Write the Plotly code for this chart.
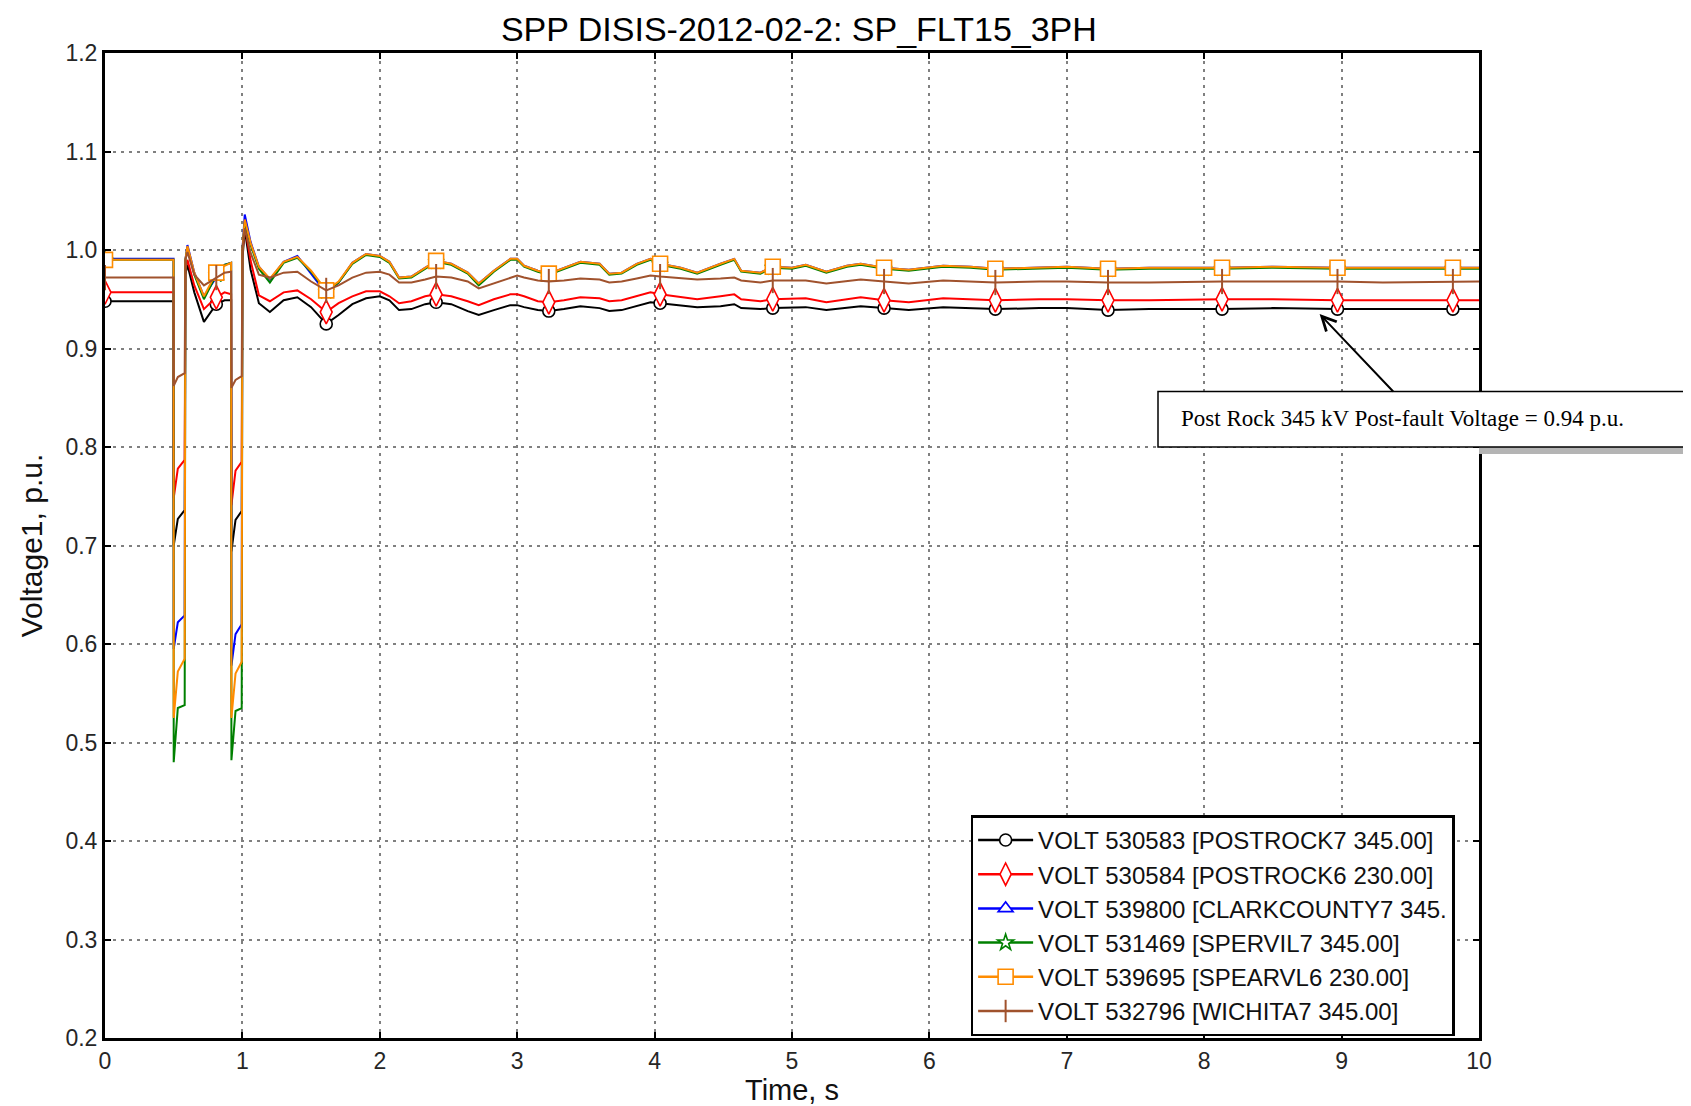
import numpy as np
import plotly.graph_objects as go

# ---------------- data ----------------
t = [0, 0.499, 0.5, 0.53, 0.58, 0.585, 0.6, 0.65, 0.72, 0.81,
     0.87, 0.918, 0.92, 0.95, 0.995, 1.0, 1.017, 1.06, 1.12, 1.2,
     1.3, 1.4, 1.5, 1.61, 1.7, 1.8, 1.9, 2.0, 2.07, 2.14,
     2.23, 2.33, 2.41, 2.52, 2.64, 2.72, 2.83, 2.95, 3.0, 3.05,
     3.15, 3.23, 3.34, 3.46, 3.6, 3.67, 3.76, 3.87, 3.97, 4.04,
     4.19, 4.31, 4.48, 4.58, 4.63, 4.77, 4.86, 5.0, 5.1, 5.25,
     5.4, 5.5, 5.67, 5.85, 6.1, 6.3, 6.48, 6.8, 7.0, 7.3,
     7.6, 8.13, 8.5, 8.97, 9.3, 9.81, 10]

v_postrock7 = [0.948, 0.948, 0.700, 0.727, 0.736, 0.975, 0.985, 0.957, 0.927, 0.945,
               0.949, 0.949, 0.694, 0.726, 0.735, 0.990, 1.021, 0.980, 0.946, 0.937,
               0.949, 0.952, 0.942, 0.925, 0.934, 0.945, 0.951, 0.953, 0.949, 0.939,
               0.940, 0.945, 0.947, 0.945, 0.938, 0.934, 0.939, 0.944, 0.944, 0.942,
               0.939, 0.938, 0.940, 0.943, 0.941, 0.938, 0.939, 0.943, 0.947, 0.946,
               0.944, 0.942, 0.943, 0.945, 0.941, 0.940, 0.941, 0.942, 0.942, 0.939,
               0.941, 0.943, 0.941, 0.939, 0.942, 0.941, 0.940, 0.941, 0.941, 0.939,
               0.940, 0.940, 0.941, 0.940, 0.940, 0.940, 0.940]

v_postrock6 = [0.957, 0.957, 0.748, 0.778, 0.787, 0.980, 0.990, 0.964, 0.940, 0.952,
               0.957, 0.955, 0.741, 0.776, 0.785, 0.995, 1.025, 0.989, 0.954, 0.948,
               0.957, 0.959, 0.950, 0.937, 0.946, 0.953, 0.958, 0.958, 0.953, 0.946,
               0.948, 0.953, 0.955, 0.953, 0.948, 0.944, 0.950, 0.955, 0.955, 0.953,
               0.948, 0.947, 0.949, 0.952, 0.951, 0.948, 0.949, 0.953, 0.957, 0.955,
               0.952, 0.950, 0.953, 0.955, 0.950, 0.948, 0.950, 0.951, 0.951, 0.947,
               0.950, 0.952, 0.949, 0.947, 0.951, 0.950, 0.949, 0.950, 0.950, 0.949,
               0.949, 0.950, 0.950, 0.949, 0.949, 0.949, 0.949]

v_clarkcounty7 = [0.991, 0.991, 0.595, 0.622, 0.629, 0.990, 1.005, 0.977, 0.953, 0.973,
                  0.985, 0.987, 0.578, 0.610, 0.620, 1.000, 1.036, 1.008, 0.983, 0.970,
                  0.988, 0.994, 0.976, 0.956, 0.967, 0.987, 0.996, 0.994, 0.988, 0.972,
                  0.973, 0.982, 0.989, 0.986, 0.977, 0.966, 0.979, 0.991, 0.991, 0.984,
                  0.979, 0.976, 0.982, 0.988, 0.986, 0.976, 0.977, 0.986, 0.991, 0.986,
                  0.982, 0.977, 0.986, 0.991, 0.979, 0.977, 0.983, 0.982, 0.985, 0.978,
                  0.984, 0.986, 0.982, 0.980, 0.984, 0.983, 0.981, 0.982, 0.983, 0.981,
                  0.982, 0.982, 0.983, 0.982, 0.982, 0.982, 0.982]

v_spervil7 = [0.990, 0.990, 0.480, 0.535, 0.538, 0.990, 1.002, 0.975, 0.950, 0.975,
              0.985, 0.987, 0.482, 0.532, 0.535, 1.000, 1.028, 1.005, 0.981, 0.967,
              0.987, 0.992, 0.978, 0.958, 0.967, 0.986, 0.995, 0.993, 0.987, 0.971,
              0.972, 0.981, 0.988, 0.985, 0.976, 0.964, 0.978, 0.990, 0.990, 0.983,
              0.978, 0.975, 0.981, 0.987, 0.985, 0.975, 0.976, 0.985, 0.990, 0.985,
              0.981, 0.976, 0.985, 0.990, 0.978, 0.976, 0.982, 0.981, 0.984, 0.977,
              0.983, 0.985, 0.981, 0.979, 0.983, 0.982, 0.980, 0.981, 0.982, 0.980,
              0.981, 0.981, 0.982, 0.981, 0.981, 0.981, 0.981]

v_spearvl6 = [0.990, 0.990, 0.525, 0.572, 0.585, 0.990, 1.004, 0.977, 0.953, 0.977,
              0.984, 0.987, 0.525, 0.570, 0.582, 1.000, 1.031, 1.007, 0.983, 0.971,
              0.988, 0.993, 0.979, 0.959, 0.968, 0.987, 0.996, 0.994, 0.988, 0.972,
              0.973, 0.982, 0.989, 0.986, 0.977, 0.966, 0.979, 0.991, 0.991, 0.984,
              0.979, 0.976, 0.982, 0.988, 0.986, 0.976, 0.977, 0.986, 0.991, 0.986,
              0.982, 0.977, 0.986, 0.991, 0.979, 0.977, 0.983, 0.982, 0.985, 0.978,
              0.984, 0.986, 0.982, 0.980, 0.984, 0.983, 0.981, 0.982, 0.983, 0.981,
              0.982, 0.982, 0.983, 0.982, 0.982, 0.982, 0.982]

v_wichita7 = [0.972, 0.972, 0.862, 0.871, 0.875, 0.990, 0.998, 0.975, 0.964, 0.972,
              0.977, 0.978, 0.860, 0.868, 0.872, 1.000, 1.022, 0.997, 0.975, 0.972,
              0.977, 0.978, 0.968, 0.959, 0.964, 0.972, 0.977, 0.978, 0.975, 0.967,
              0.967, 0.970, 0.973, 0.972, 0.968, 0.961, 0.966, 0.972, 0.974, 0.972,
              0.969, 0.968, 0.969, 0.971, 0.970, 0.967, 0.968, 0.971, 0.974, 0.973,
              0.971, 0.970, 0.971, 0.972, 0.969, 0.967, 0.969, 0.969, 0.969, 0.966,
              0.968, 0.970, 0.968, 0.966, 0.969, 0.968, 0.967, 0.968, 0.968, 0.967,
              0.967, 0.968, 0.968, 0.968, 0.967, 0.968, 0.968]

marker_times = [0, 0.81, 1.61, 2.41, 3.23, 4.04, 4.86, 5.67, 6.48, 7.3, 8.13, 8.97, 9.81]

series_names = ["VOLT 530583 [POSTROCK7 345.00]",
                "VOLT 530584 [POSTROCK6 230.00]",
                "VOLT 539800 [CLARKCOUNTY7 345.",
                "VOLT 531469 [SPERVIL7 345.00]",
                "VOLT 539695 [SPEARVL6 230.00]",
                "VOLT 532796 [WICHITA7 345.00]"]
series_values = [v_postrock7, v_postrock6, v_clarkcounty7, v_spervil7, v_spearvl6, v_wichita7]

title_text = "SPP DISIS-2012-02-2: SP_FLT15_3PH"
note_text = "Post Rock 345 kV Post-fault Voltage = 0.94 p.u."
note_point = (8.84, 0.935)

# ---------------- styles ----------------
colors = ["#000000", "#FF0000", "#0000FF", "#008000", "#FF8C00", "#A0522D"]
symbols = ["circle", "diamond-tall", "triangle-up", "star", "square", "line-ns"]
msizes = [12, 17, 13, 12, 15, 18]

FONT = "Liberation Sans, Arial, sans-serif"

t_arr = np.array(t)
mask = np.array([any(np.isclose(tt, m) for m in marker_times) for tt in t_arr])

fig = go.Figure()
for name, vals, col, sym, ms in zip(series_names, series_values, colors, symbols, msizes):
    vals = np.array(vals)
    fig.add_trace(go.Scatter(x=t_arr, y=vals, mode="lines",
                             line=dict(color=col, width=2),
                             showlegend=False, hoverinfo="skip", legendgroup=name))
    if sym == "line-ns":
        mk = dict(symbol=sym, size=ms, line=dict(color=col, width=2))
    else:
        mk = dict(symbol=sym, size=ms, color="white", line=dict(color=col, width=1.6))
    fig.add_trace(go.Scatter(x=t_arr[mask], y=vals[mask], mode="markers", marker=mk,
                             showlegend=False, legendgroup=name))
    fig.add_trace(go.Scatter(x=[None], y=[None], mode="lines+markers", name=name,
                             line=dict(color=col, width=2.5), marker=mk,
                             legendgroup=name))

axis_common = dict(
    showline=True, linecolor="black", linewidth=3, mirror="ticks",
    ticks="inside", ticklen=6, tickwidth=1.5, tickcolor="black",
    showgrid=True, gridcolor="#808080", gridwidth=2, griddash="3px,5px",
    zeroline=False, tickfont=dict(family=FONT, size=23, color="#262626"),
)

fig.update_xaxes(range=[0, 10], dtick=1, tick0=0,
                 title=dict(text="Time, s", font=dict(family=FONT, size=29, color="#111111"),
                            standoff=8),
                 **axis_common)
fig.update_yaxes(range=[0.2, 1.2], dtick=0.1, tick0=0.2, tickformat=".1f",
                 title=dict(text="Voltage1, p.u.", font=dict(family=FONT, size=30, color="#111111"),
                            standoff=14),
                 **axis_common)

fig.update_layout(
    width=1691, height=1106, autosize=False,
    margin=dict(l=97, r=220, t=45, b=66),
    paper_bgcolor="white", plot_bgcolor="white",
    title=dict(text=title_text, x=0.505, xref="paper", xanchor="center",
               y=1 - 21 / 1106, yref="container", yanchor="middle",
               font=dict(family=FONT, size=34, color="#000000")),
    legend=dict(x=0.630, y=0.226, xanchor="left", yanchor="top",
                bgcolor="white", bordercolor="black", borderwidth=2.5,
                font=dict(family=FONT, size=24, color="#111111"),
                itemwidth=55, tracegroupgap=0),
    showlegend=True,
)

# annotation box with shadow
fig.add_shape(type="rect", xref="paper", yref="paper",
              x0=1.0, x1=1.17, y0=(1040 - 450) / 995, y1=(1040 - 443) / 995,
              line=dict(width=0), fillcolor="#b4b4b4", layer="above")
fig.add_shape(type="rect", xref="paper", yref="paper",
              x0=(1150 - 97) / 1374, x1=1.17, y0=(1040 - 443) / 995, y1=(1040 - 387) / 995,
              line=dict(color="black", width=1.5), fillcolor="white", layer="above")
fig.add_annotation(x=(1171 - 97) / 1374, y=(1040 - 414) / 995, xref="paper", yref="paper",
                   xanchor="left", yanchor="middle", showarrow=False, text=note_text,
                   font=dict(family="Liberation Serif, Times New Roman, serif", size=23, color="black"))
fig.add_annotation(x=note_point[0], y=note_point[1], xref="x", yref="y",
                   ax=75, ay=79, text="", showarrow=True,
                   arrowhead=5, arrowsize=1.4, arrowwidth=2, arrowcolor="black")

fig.write_html("out.html")
